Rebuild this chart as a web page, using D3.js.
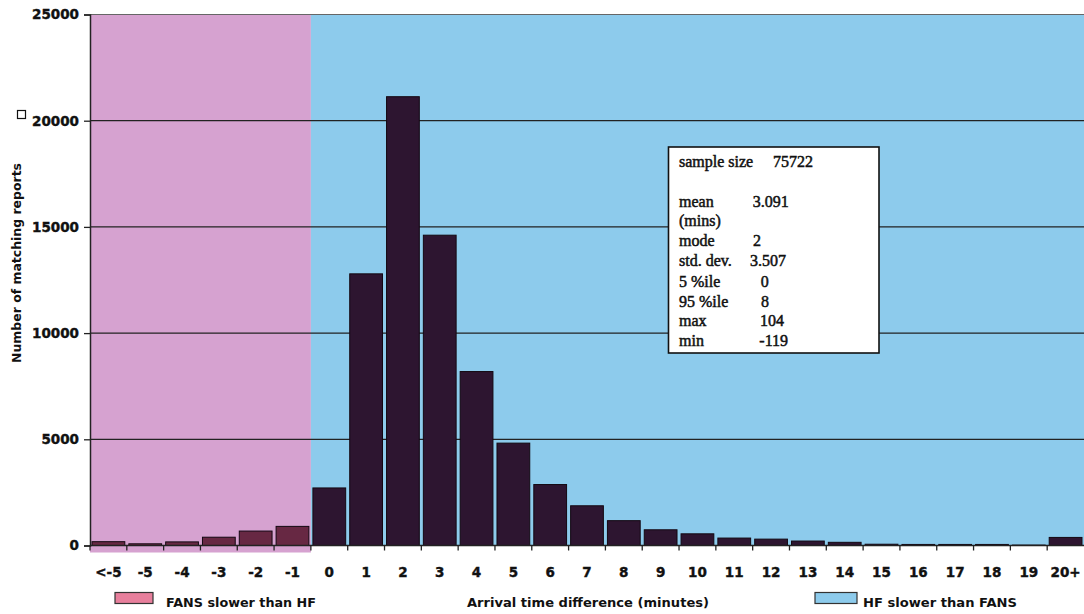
<!DOCTYPE html>
<html><head><meta charset="utf-8">
<script src="https://cdn.jsdelivr.net/npm/d3@7"></script>
<style>html,body{margin:0;padding:0;background:#fff;}svg{display:block;}</style>
</head><body>
<svg id="chart" width="1084" height="614"></svg>
<script>
const categories = ["<-5","-5","-4","-3","-2","-1","0","1","2","3","4","5","6","7","8","9","10","11","12","13","14","15","16","17","18","19","20+"];
const counts = [180,80,170,390,680,900,2710,12790,21130,14610,8190,4820,2870,1870,1170,740,550,350,300,210,150,60,50,50,50,20,380];
const yTicks = [0,5000,10000,15000,20000,25000];
const statsLabels = ["sample size","mean","(mins)","mode","std. dev.","5 %ile","95 %ile","max","min"];
const statsValues = ["75722","3.091","","2","3.507","0","8","104","-119"];
const legendLabels = ["FANS slower than HF","HF slower than FANS"];
const xTitle = "Arrival time difference  (minutes)";
const yTitle = "Number of matching reports";

(function () {
const svg = d3.select("#chart");
const pL = 90, pR = 1084, pT = 14.5, pB = 545.5;
const x = d3.scaleBand().domain(categories).range([pL, pR]).paddingInner(0.11).paddingOuter(0.055);
const y = d3.scaleLinear().domain([0, 25000]).range([pB, pT]);
const gap = (x.step() - x.bandwidth()) / 2;
const boundary = x("0") - gap;

// backgrounds
svg.append("rect").attr("x", pL).attr("y", pT).attr("width", boundary - pL).attr("height", pB - pT + 7).attr("fill", "#d6a2d0");
svg.append("rect").attr("x", boundary).attr("y", pT).attr("width", pR - boundary).attr("height", pB - pT).attr("fill", "#8dcbec");

// grid lines
svg.append("g").selectAll("line").data(yTicks.filter(d => d > 0)).join("line")
  .attr("x1", pL).attr("x2", pR).attr("y1", d => y(d)).attr("y2", d => y(d))
  .attr("stroke", d => d === 25000 ? "#666" : "#222").attr("stroke-width", 1.2);

// bars
svg.append("g").selectAll("rect").data(categories).join("rect")
  .attr("x", d => x(d)).attr("width", x.bandwidth())
  .attr("y", (d, i) => y(counts[i])).attr("height", (d, i) => y(0) - y(counts[i]))
  .attr("fill", (d, i) => i < 6 ? "#672843" : "#2d1530")
  .attr("stroke", "#140812").attr("stroke-width", 1);

// axes
const yAxis = d3.axisLeft(y).tickValues(yTicks).tickSize(6).tickPadding(5).tickFormat(d3.format("d"));
const gy = svg.append("g").attr("transform", `translate(${pL},0)`).call(yAxis);
gy.select(".domain").attr("stroke", "#222").attr("stroke-width", 1.5);
gy.selectAll(".tick line").attr("stroke", "#222").attr("stroke-width", 1.3);
gy.selectAll(".tick text").attr("font-family", "DejaVu Sans").attr("font-weight", "bold").attr("font-size", 13.5)
  .attr("fill", "#111").attr("stroke", "#111").attr("stroke-width", 0.4);

const gx = svg.append("g").attr("transform", `translate(0,${pB})`);
gx.append("line").attr("x1", pL).attr("x2", pR).attr("stroke", "#222").attr("stroke-width", 1.5);
gx.selectAll("line.t").data(categories).join("line").attr("class", "t")
  .attr("x1", d => x(d) - gap).attr("x2", d => x(d) - gap).attr("y1", 0).attr("y2", 5)
  .attr("stroke", "#222").attr("stroke-width", 1.3);
gx.selectAll("text").data(categories).join("text")
  .attr("x", d => x(d) + x.bandwidth() / 2).attr("y", 31.5)
  .attr("text-anchor", "middle").attr("font-family", "DejaVu Sans").attr("font-weight", "bold")
  .attr("font-size", 13.5).attr("fill", "#111").attr("stroke", "#111").attr("stroke-width", 0.4).text(d => d);

// y title
svg.append("text").attr("transform", "translate(21,263) rotate(-90)").attr("text-anchor", "middle")
  .attr("font-family", "DejaVu Sans").attr("font-weight", "bold").attr("font-size", 11.5)
  .attr("textLength", 200).attr("lengthAdjust", "spacingAndGlyphs").attr("fill", "#111").text(yTitle);
svg.append("rect").attr("x", 17.5).attr("y", 110.5).attr("width", 8).attr("height", 8).attr("fill", "#fff").attr("stroke", "#111").attr("stroke-width", 1.2);

// x title
svg.append("text").attr("x", 467).attr("y", 607).attr("font-family", "DejaVu Sans").attr("font-weight", "bold")
  .attr("font-size", 12.5).attr("textLength", 242).attr("lengthAdjust", "spacingAndGlyphs").attr("fill", "#111").text(xTitle);

// legends
const legend = [
  {x: 115, tx: 166, w: 150, bw: 38, fill: "#e77f9c"},
  {x: 815, tx: 863, w: 154, bw: 42, fill: "#8dcbec"}
];
legend.forEach((l, i) => {
  svg.append("rect").attr("x", l.x).attr("y", 592.5).attr("width", l.bw).attr("height", 11)
    .attr("fill", l.fill).attr("stroke", "#333").attr("stroke-width", 1.2);
  svg.append("text").attr("x", l.tx).attr("y", 607).attr("font-family", "DejaVu Sans").attr("font-weight", "bold")
    .attr("font-size", 13).attr("textLength", l.w).attr("lengthAdjust", "spacingAndGlyphs").attr("fill", "#111").text(legendLabels[i]);
});

// stats box
svg.append("rect").attr("x", 668.5).attr("y", 147).attr("width", 210.5).attr("height", 206)
  .attr("fill", "#fff").attr("stroke", "#111").attr("stroke-width", 1.6);
const rowY = [167.3, 206.7, 225.5, 246, 266, 286.7, 306.7, 326, 345.5];
const valX = [773, 752.7, 0, 753, 750, 760.7, 761, 760, 759.3];
const sg = svg.append("g").attr("font-family", "Liberation Serif").attr("font-size", 16).attr("fill", "#111")
  .attr("stroke", "#111").attr("stroke-width", 0.5);
statsLabels.forEach((s, i) => {
  sg.append("text").attr("x", 679).attr("y", rowY[i]).text(s);
  if (statsValues[i]) sg.append("text").attr("x", valX[i]).attr("y", rowY[i]).text(statsValues[i]);
});
})();
</script>
</body></html>
